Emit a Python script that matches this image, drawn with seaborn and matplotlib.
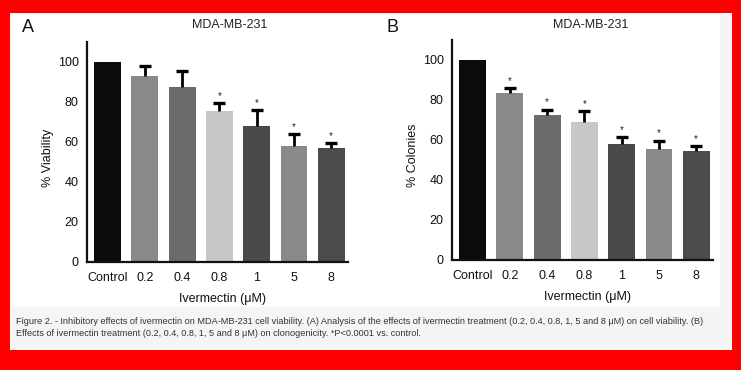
import numpy as np
import pandas as pd
import matplotlib
matplotlib.use("Agg")
import matplotlib.pyplot as plt
import seaborn as sns
from matplotlib.patches import Rectangle
from matplotlib import font_manager

sns.set_theme(style="white")
plt.rcParams['font.family'] = ['Liberation Sans', 'DejaVu Sans']

# ---- data ----
categories = ["Control", "0.2", "0.4", "0.8", "1", "5", "8"]
viability_mean = [100, 93, 87.3, 75.5, 68, 58, 57]
viability_err = [0, 5, 8, 3.8, 8, 6, 2.3]
viability_sig = [False, False, False, True, True, True, True]
colonies_mean = [100, 83.3, 72.3, 69.2, 57.8, 55.5, 54.3]
colonies_err = [0, 2.7, 2.9, 5.3, 3.7, 4.2, 2.7]
colonies_sig = [False, True, True, True, True, True, True]
bar_colors = ["#0b0b0b", "#898989", "#6b6b6b", "#c7c7c7", "#4a4a4a", "#8a8a8a", "#4b4b4b"]

W, H = 741, 370
fig = plt.figure(figsize=(W / 100, H / 100), dpi=100)
fig.patch.set_facecolor("#ff0000")

def px_rect(x0, y0, x1, y1, color):
    fig.add_artist(Rectangle((x0 / W, 1 - y1 / H), (x1 - x0) / W, (y1 - y0) / H,
                             transform=fig.transFigure, facecolor=color,
                             edgecolor="none", zorder=-10))

px_rect(10, 13, 732, 350, "#f5f5f5")
px_rect(12, 15, 720, 307, "#ffffff")

def make_panel(left_px, right_px, bottom_px, top_px, means, errs, sigs, ylabel,
               letter, letter_x, title_x):
    ax = fig.add_axes([left_px / W, 1 - bottom_px / H,
                       (right_px - left_px) / W, (bottom_px - top_px) / H])
    ax.set_facecolor("none")
    df = pd.DataFrame({"cat": categories, "val": means})
    sns.barplot(data=df, x="cat", y="val", hue="cat", palette=bar_colors,
                order=categories, hue_order=categories, width=0.72,
                dodge=False, legend=False, ax=ax, saturation=1, edgecolor="none")
    x = np.arange(len(categories))
    m = np.array(means, dtype=float)
    e = np.array(errs, dtype=float)
    mask = e > 0
    cont = ax.errorbar(x[mask], m[mask], yerr=[np.zeros(mask.sum()), e[mask]], fmt="none",
                       ecolor="black", elinewidth=2.0, capsize=4.6, capthick=2.4, zorder=5)
    _, caplines, _ = cont.lines
    for cl in caplines:
        yd = np.asarray(cl.get_ydata(), dtype=float)
        if np.allclose(yd, m[mask]):
            cl.set_visible(False)
    for xi, mi, ei, s in zip(x, m, e, sigs):
        if s:
            ax.text(xi, mi + ei + 1.2, "*", ha="center", va="bottom",
                    fontsize=7, color="#222222")
    ax.set_xlim(-0.55, 6.45)
    ax.set_ylim(0, 110)
    ax.set_yticks([0, 20, 40, 60, 80, 100])
    ax.set_xlabel("Ivermectin (μM)", fontsize=9, color="#111111")
    ax.set_ylabel(ylabel, fontsize=9, color="#111111")
    ax.yaxis.set_label_coords(-0.125, 0.475)
    ax.xaxis.set_label_coords(0.52, -0.14)
    for sp in ["top", "right"]:
        ax.spines[sp].set_visible(False)
    for sp in ["left", "bottom"]:
        ax.spines[sp].set_linewidth(1.6)
        ax.spines[sp].set_color("#111111")
    ax.tick_params(axis="both", direction="out", length=4, width=1.5,
                   color="#111111", labelsize=9, labelcolor="#111111", pad=2)
    ax.tick_params(axis="x", pad=3)
    fig.text(title_x / W, 1 - 25 / H, "MDA-MB-231", ha="center", va="center",
             fontsize=9, color="#222222")
    fig.text(letter_x / W, 1 - 27 / H, letter, ha="left", va="center",
             fontsize=13, color="#111111")
    return ax

make_panel(87, 348, 262, 42, viability_mean, viability_err, viability_sig,
           "% Viability", "A", 22, 230)
make_panel(452, 713, 260, 40, colonies_mean, colonies_err, colonies_sig,
           "% Colonies", "B", 386, 591)

names = {f.name for f in font_manager.fontManager.ttflist}
cap_family = ['Liberation Sans Narrow', 'DejaVu Sans'] if 'Liberation Sans Narrow' in names \
    else ['Liberation Sans', 'DejaVu Sans']

line1 = ("Figure 2. - Inhibitory effects of ivermectin on MDA-MB-231 cell viability. "
         "(A) Analysis of the effects of ivermectin treatment (0.2, 0.4, 0.8, 1, 5 and 8 μM) "
         "on cell viability. (B)")
line2 = ("Effects of ivermectin treatment (0.2, 0.4, 0.8, 1, 5 and 8 μM) on clonogenicity. "
         "*P<0.0001 vs. control.")
t1 = fig.text(16 / W, 1 - 321 / H, line1, ha="left", va="center", fontsize=6.5,
              color="#333333", family=cap_family)
t2 = fig.text(16 / W, 1 - 334 / H, line2, ha="left", va="center", fontsize=6.5,
              color="#333333", family=cap_family)
fig.canvas.draw()
r = fig.canvas.get_renderer()
w1 = t1.get_window_extent(r).width
scale = 684.0 / w1
fs = min(6.5 * scale, 8.0)
t1.set_fontsize(fs)
t2.set_fontsize(fs)

fig.savefig("out.png", dpi=100, facecolor=fig.get_facecolor())
